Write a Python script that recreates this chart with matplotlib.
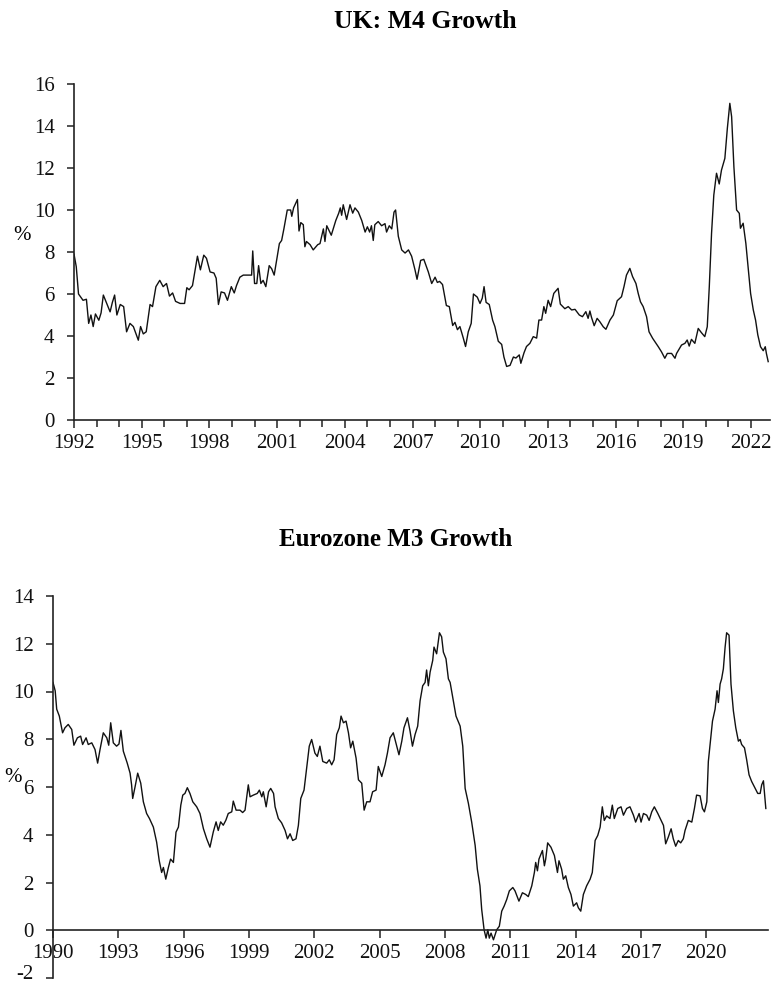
import numpy as np
import matplotlib
matplotlib.use('Agg')
import matplotlib.pyplot as plt
import matplotlib.transforms as mtransforms
from matplotlib.ticker import MultipleLocator

plt.rcParams['font.family'] = ['Liberation Serif', 'DejaVu Serif']
plt.rcParams['axes.unicode_minus'] = False

# UK M4 growth, % y/y
uk_t = [1992.0, 1992.1, 1992.2, 1992.4, 1992.55, 1992.65, 1992.75, 1992.85, 1992.95, 1993.1,
        1993.2, 1993.3, 1993.45, 1993.6, 1993.7, 1993.8, 1993.9, 1994.05, 1994.2, 1994.33,
        1994.48, 1994.63, 1994.85, 1994.95, 1995.07, 1995.2, 1995.37, 1995.48, 1995.63, 1995.8,
        1995.95, 1996.1, 1996.23, 1996.37, 1996.5, 1996.7, 1996.9, 1997.0, 1997.1, 1997.25,
        1997.47, 1997.6, 1997.75, 1997.87, 1998.03, 1998.2, 1998.3, 1998.4, 1998.52, 1998.67,
        1998.8, 1998.97, 1999.1, 1999.2, 1999.35, 1999.5, 1999.72, 1999.87, 1999.92, 2000.0,
        2000.1, 2000.18, 2000.28, 2000.38, 2000.5, 2000.65, 2000.76, 2000.87, 2001.1, 2001.2,
        2001.3, 2001.45, 2001.6, 2001.65, 2001.73, 2001.9, 2001.97, 2002.05, 2002.16, 2002.23,
        2002.3, 2002.46, 2002.6, 2002.8, 2002.9, 2003.05, 2003.12, 2003.2, 2003.4, 2003.6,
        2003.73, 2003.8, 2003.86, 2003.93, 2004.08, 2004.23, 2004.35, 2004.45, 2004.6, 2004.75,
        2004.9, 2005.0, 2005.1, 2005.18, 2005.26, 2005.33, 2005.48, 2005.63, 2005.78, 2005.85,
        2005.97, 2006.08, 2006.18, 2006.25, 2006.37, 2006.52, 2006.67, 2006.82, 2006.96, 2007.11,
        2007.2, 2007.36, 2007.5, 2007.7, 2007.85, 2008.0, 2008.1, 2008.2, 2008.33, 2008.5,
        2008.63, 2008.78, 2008.88, 2008.99, 2009.1, 2009.25, 2009.35, 2009.47, 2009.6, 2009.7,
        2009.87, 2009.99, 2010.09, 2010.17, 2010.26, 2010.4, 2010.55, 2010.65, 2010.8, 2010.95,
        2011.05, 2011.17, 2011.32, 2011.47, 2011.58, 2011.73, 2011.8, 2011.94, 2012.05, 2012.2,
        2012.35, 2012.5, 2012.6, 2012.72, 2012.82, 2012.9, 2013.01, 2013.12, 2013.26, 2013.45,
        2013.55, 2013.75, 2013.9, 2014.05, 2014.2, 2014.39, 2014.53, 2014.68, 2014.78, 2014.86,
        2014.93, 2015.05, 2015.18, 2015.3, 2015.45, 2015.57, 2015.75, 2015.9, 2016.07, 2016.26,
        2016.37, 2016.48, 2016.63, 2016.75, 2016.9, 2017.0, 2017.1, 2017.22, 2017.37, 2017.48,
        2017.64, 2017.79, 2017.89, 2018.03, 2018.18, 2018.29, 2018.48, 2018.63, 2018.7, 2018.92,
        2019.07, 2019.17, 2019.26, 2019.36, 2019.51, 2019.66, 2019.8, 2019.95, 2020.06, 2020.15,
        2020.25, 2020.35, 2020.47, 2020.59, 2020.69, 2020.84, 2020.95, 2021.06, 2021.14, 2021.24,
        2021.36, 2021.48, 2021.53, 2021.65, 2021.77, 2021.87, 2021.98, 2022.1, 2022.2, 2022.3,
        2022.42, 2022.54, 2022.63, 2022.68, 2022.76]
uk_v = [7.9, 7.3, 6.0, 5.7, 5.75, 4.6, 5.0, 4.45, 5.05, 4.75,
        5.1, 5.95, 5.55, 5.15, 5.6, 5.95, 5.0, 5.5, 5.4, 4.2,
        4.6, 4.45, 3.8, 4.45, 4.1, 4.2, 5.5, 5.4, 6.35, 6.65,
        6.35, 6.5, 5.9, 6.05, 5.65, 5.55, 5.55, 6.3, 6.2, 6.4,
        7.8, 7.15, 7.85, 7.7, 7.05, 7.0, 6.75, 5.5, 6.1, 6.05,
        5.7, 6.35, 6.05, 6.4, 6.8, 6.9, 6.9, 6.9, 8.05, 6.5,
        6.5, 7.35, 6.5, 6.65, 6.35, 7.35, 7.2, 6.9, 8.4, 8.55,
        9.1, 10.0, 10.0, 9.7, 10.1, 10.5, 9.0, 9.4, 9.3, 8.25,
        8.5, 8.35, 8.1, 8.35, 8.4, 9.1, 8.5, 9.25, 8.8, 9.5,
        9.85, 10.1, 9.75, 10.25, 9.55, 10.25, 9.85, 10.1, 9.9, 9.5,
        8.95, 9.2, 8.95, 9.25, 8.55, 9.3, 9.45, 9.25, 9.35, 8.95,
        9.25, 9.1, 9.9, 10.0, 8.75, 8.1, 7.95, 8.1, 7.8, 7.15,
        6.7, 7.6, 7.65, 7.05, 6.5, 6.8, 6.55, 6.6, 6.45, 5.45,
        5.4, 4.5, 4.65, 4.3, 4.45, 3.9, 3.5, 4.2, 4.6, 6.0,
        5.85, 5.55, 5.8, 6.35, 5.6, 5.5, 4.75, 4.45, 3.75, 3.6,
        3.0, 2.55, 2.6, 3.0, 2.95, 3.1, 2.7, 3.2, 3.5, 3.65,
        3.97, 3.9, 4.76, 4.76, 5.4, 5.08, 5.7, 5.4, 6.03, 6.27,
        5.52, 5.3, 5.4, 5.24, 5.27, 5.0, 4.92, 5.16, 4.84, 5.19,
        4.89, 4.49, 4.84, 4.68, 4.44, 4.32, 4.76, 5.0, 5.68, 5.87,
        6.35, 6.9, 7.22, 6.83, 6.5, 6.03, 5.63, 5.4, 4.92, 4.2,
        3.89, 3.65, 3.49, 3.25, 2.94, 3.17, 3.17, 2.94, 3.17, 3.57,
        3.65, 3.81, 3.52, 3.84, 3.65, 4.36, 4.16, 3.97, 4.44, 6.35,
        8.89, 10.71, 11.75, 11.24, 11.9, 12.46, 13.89, 15.08, 14.44, 12.06,
        10.0, 9.84, 9.13, 9.37, 8.41, 7.3, 6.03, 5.24, 4.76, 4.05,
        3.49, 3.3, 3.49, 3.17, 2.78]

# Eurozone M3 growth, % y/y
ez_t = [1990.0, 1990.1, 1990.17, 1990.29, 1990.44, 1990.55, 1990.7, 1990.86, 1990.96, 1991.12,
        1991.27, 1991.36, 1991.52, 1991.62, 1991.78, 1991.93, 1992.05, 1992.16, 1992.31, 1992.47,
        1992.56, 1992.65, 1992.77, 1992.92, 1993.03, 1993.12, 1993.23, 1993.41, 1993.54, 1993.61,
        1993.66, 1993.77, 1993.89, 1994.03, 1994.15, 1994.3, 1994.43, 1994.61, 1994.76, 1994.88,
        1994.99, 1995.07, 1995.18, 1995.3, 1995.4, 1995.53, 1995.65, 1995.76, 1995.87, 1995.96,
        1996.06, 1996.17, 1996.29, 1996.42, 1996.6, 1996.75, 1996.91, 1997.06, 1997.21, 1997.36,
        1997.49, 1997.59, 1997.7, 1997.82, 1997.94, 1998.05, 1998.21, 1998.28, 1998.41, 1998.59,
        1998.71, 1998.82, 1998.97, 1999.05, 1999.2, 1999.38, 1999.48, 1999.59, 1999.66, 1999.79,
        1999.9, 2000.0, 2000.13, 2000.2, 2000.35, 2000.5, 2000.66, 2000.77, 2000.89, 2001.01,
        2001.16, 2001.27, 2001.38, 2001.53, 2001.65, 2001.77, 2001.88, 2002.03, 2002.14, 2002.26,
        2002.39, 2002.57, 2002.69, 2002.8, 2002.91, 2003.03, 2003.15, 2003.23, 2003.34, 2003.46,
        2003.57, 2003.67, 2003.77, 2003.92, 2004.03, 2004.18, 2004.29, 2004.41, 2004.56, 2004.68,
        2004.84, 2004.94, 2005.1, 2005.25, 2005.36, 2005.48, 2005.63, 2005.79, 2005.89, 2006.02,
        2006.12, 2006.28, 2006.4, 2006.51, 2006.63, 2006.75, 2006.86, 2006.98, 2007.09, 2007.16,
        2007.24, 2007.32, 2007.44, 2007.5, 2007.62, 2007.75, 2007.85, 2007.93, 2008.05, 2008.16,
        2008.24, 2008.36, 2008.51, 2008.7, 2008.82, 2008.93, 2009.08, 2009.23, 2009.39, 2009.49,
        2009.61, 2009.69, 2009.8, 2009.89, 2009.97, 2010.04, 2010.12, 2010.23, 2010.38, 2010.5,
        2010.61, 2010.72, 2010.84, 2010.96, 2011.12, 2011.22, 2011.4, 2011.56, 2011.71, 2011.83,
        2011.99, 2012.11, 2012.17, 2012.25, 2012.32, 2012.48, 2012.57, 2012.63, 2012.72, 2012.87,
        2013.03, 2013.17, 2013.24, 2013.36, 2013.44, 2013.55, 2013.67, 2013.79, 2013.9, 2014.05,
        2014.13, 2014.24, 2014.36, 2014.51, 2014.67, 2014.77, 2014.9, 2015.02, 2015.13, 2015.23,
        2015.32, 2015.43, 2015.58, 2015.69, 2015.78, 2015.94, 2016.09, 2016.2, 2016.35, 2016.5,
        2016.66, 2016.76, 2016.92, 2017.01, 2017.12, 2017.27, 2017.38, 2017.5, 2017.62, 2017.78,
        2017.93, 2018.04, 2018.14, 2018.26, 2018.39, 2018.49, 2018.6, 2018.72, 2018.83, 2018.95,
        2019.03, 2019.18, 2019.34, 2019.46, 2019.56, 2019.72, 2019.83, 2019.92, 2020.03, 2020.1,
        2020.18, 2020.29, 2020.41, 2020.5, 2020.56, 2020.64, 2020.71, 2020.79, 2020.87, 2020.94,
        2021.05, 2021.14, 2021.25, 2021.36, 2021.48, 2021.56, 2021.63, 2021.76, 2021.86, 2021.97,
        2022.09, 2022.25, 2022.37, 2022.48, 2022.55, 2022.63, 2022.74]
ez_v = [10.38, 10.03, 9.26, 8.97, 8.27, 8.48, 8.62, 8.41, 7.75, 8.06,
        8.13, 7.78, 8.06, 7.78, 7.85, 7.57, 7.0, 7.57, 8.27, 8.06,
        7.75, 8.69, 7.85, 7.71, 7.8, 8.37, 7.5, 7.0, 6.58, 6.09,
        5.52, 6.01, 6.58, 6.16, 5.38, 4.89, 4.68, 4.32, 3.69, 2.91,
        2.42, 2.63, 2.14, 2.63, 2.98, 2.84, 4.11, 4.32, 5.24, 5.66,
        5.73, 5.97, 5.73, 5.38, 5.17, 4.89, 4.25, 3.83, 3.48, 4.11,
        4.54, 4.18, 4.54, 4.4, 4.61, 4.89, 4.96, 5.41, 5.03, 5.03,
        4.93, 5.03, 6.09, 5.59, 5.66, 5.73, 5.87, 5.59, 5.8, 5.17,
        5.8, 5.94, 5.73, 5.17, 4.68, 4.5, 4.18, 3.83, 4.04, 3.76,
        3.83, 4.39, 5.52, 5.87, 6.79, 7.71, 7.99, 7.42, 7.28, 7.71,
        7.07, 7.0, 7.14, 6.93, 7.14, 8.2, 8.48, 8.97, 8.69, 8.76,
        8.27, 7.64, 7.92, 7.21, 6.3, 6.16, 5.03, 5.38, 5.38, 5.8,
        5.87, 6.86, 6.44, 6.93, 7.42, 8.06, 8.27, 7.71, 7.35, 7.92,
        8.48, 8.9, 8.34, 7.71, 8.2, 8.55, 9.61, 10.24, 10.38, 10.9,
        10.24, 10.81, 11.3, 11.86, 11.58, 12.46, 12.29, 11.65, 11.37, 10.53,
        10.38, 9.75, 8.97, 8.55, 7.71, 5.94, 5.31, 4.53, 3.55, 2.56,
        1.86, 0.87, 0.02, -0.33, 0.02, -0.33, -0.12, -0.4, 0.02, 0.17,
        0.8, 1.01, 1.29, 1.65, 1.79, 1.65, 1.22, 1.57, 1.5, 1.41,
        1.86, 2.42, 2.84, 2.49, 2.98, 3.34, 2.7, 2.98, 3.66, 3.48,
        3.13, 2.42, 2.91, 2.56, 2.14, 2.28, 1.79, 1.5, 1.01, 1.15,
        0.94, 0.8, 1.5, 1.86, 2.14, 2.42, 3.76, 3.97, 4.32, 5.17,
        4.6, 4.79, 4.68, 5.24, 4.68, 5.1, 5.17, 4.82, 5.1, 5.17,
        4.82, 4.53, 4.89, 4.53, 4.89, 4.82, 4.6, 4.96, 5.17, 4.89,
        4.6, 4.39, 3.62, 3.9, 4.25, 3.83, 3.52, 3.76, 3.66, 3.83,
        4.18, 4.6, 4.53, 5.1, 5.66, 5.63, 5.1, 4.96, 5.38, 7.07,
        7.78, 8.76, 9.26, 10.03, 9.54, 10.31, 10.53, 10.95, 11.86, 12.46,
        12.36, 10.31, 9.19, 8.48, 7.92, 7.99, 7.78, 7.64, 7.14, 6.51,
        6.23, 5.94, 5.73, 5.73, 6.09, 6.26, 5.1]

uk_years = np.arange(1992, 2023, 3)
ez_years = np.arange(1990, 2021, 3)
axis_col = '#222222'


def style_axes(ax, fs):
    for s in ['top', 'right']:
        ax.spines[s].set_visible(False)
    for s in ['left', 'bottom']:
        ax.spines[s].set_color(axis_col)
        ax.spines[s].set_linewidth(1.2)
    ax.tick_params(axis='both', which='both', direction='out', color=axis_col,
                   width=1.1, labelsize=fs, labelcolor='#111111')
    ax.tick_params(axis='y', length=5, pad=9)
    ax.tick_params(axis='x', which='major', length=6, pad=4)
    ax.tick_params(axis='x', which='minor', length=5)


fig = plt.figure(figsize=(7.73, 9.85), dpi=100)

# --- UK ---
ax1 = fig.add_axes([74 / 773, 565 / 985, 696 / 773, 336 / 985])
ax1.plot(uk_t, uk_v, color='#111111', lw=1.0)
ax1.set_xlim(1992, 2022.84)
ax1.set_ylim(0, 16)
ax1.set_yticks(np.arange(0, 17, 2))
ax1.set_xticks(uk_years)
ax1.xaxis.set_minor_locator(MultipleLocator(1))
style_axes(ax1, 15)
ax1.set_ylabel('%', rotation=0, fontsize=15)
ax1.yaxis.set_label_coords(-0.075, 0.52)
fig.text(425 / 773, 1 - 22 / 985, 'UK: M4 Growth', ha='center', va='center',
         fontsize=18.5, fontweight='bold')

# --- Eurozone ---
ax2 = fig.add_axes([53 / 773, 7 / 985, 715 / 773, 382 / 985])
ax2.plot(ez_t, ez_v, color='#111111', lw=1.0)
ax2.set_xlim(1990, 2022.84)
ax2.set_ylim(-2, 14)
ax2.set_yticks(np.arange(-2, 15, 2))
ax2.set_xticks(ez_years)
ax2.spines['bottom'].set_position(('data', 0))
style_axes(ax2, 15)
ax2.set_ylabel('%', rotation=0, fontsize=15)
ax2.yaxis.set_label_coords(-0.056, 0.50)
# the bottom "-2" label sits a little above its tick, as in the original
lbl = ax2.yaxis.get_major_ticks()[0].label1
lbl.set_transform(lbl.get_transform() +
                  mtransforms.ScaledTranslation(0, 6 / 100, fig.dpi_scale_trans))
fig.text(396 / 773, 1 - 540 / 985, 'Eurozone M3 Growth', ha='center', va='center',
         fontsize=18, fontweight='bold')

fig.savefig('out.png', dpi=100, facecolor='white')
